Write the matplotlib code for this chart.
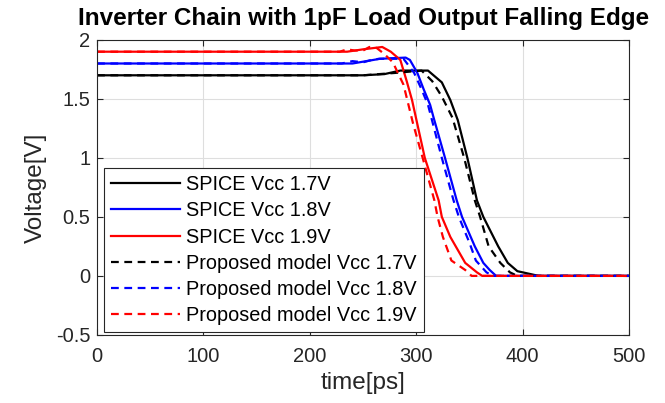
import matplotlib
matplotlib.use("Agg")
import matplotlib.pyplot as plt

plt.rcParams['font.family'] = ['Liberation Sans', 'DejaVu Sans']
plt.rcParams['axes.unicode_minus'] = False

# %% Data.
t_spice_17 = [0, 250, 270, 285, 311, 324, 332, 339, 348, 357, 363, 377, 386, 395, 405, 415, 500]
v_spice_17 = [1.70, 1.70, 1.71, 1.74, 1.74, 1.64, 1.49, 1.32, 1.00, 0.64, 0.50, 0.25, 0.11, 0.04, 0.02, 0.0, 0.0]

t_model_17 = [0, 250, 280, 305, 315, 324, 334, 345, 355, 360, 368, 379, 388, 395, 500]
v_model_17 = [1.70, 1.70, 1.72, 1.74, 1.65, 1.52, 1.34, 1.00, 0.64, 0.50, 0.25, 0.11, 0.03, 0.0, 0.0]

t_spice_18 = [0, 240, 266, 290, 294, 301, 307, 313, 316, 327, 338, 343, 355, 363, 369, 375, 500]
v_spice_18 = [1.80, 1.80, 1.84, 1.85, 1.83, 1.72, 1.58, 1.45, 1.35, 1.00, 0.64, 0.50, 0.25, 0.11, 0.05, 0.0, 0.0]

t_model_18 = [0, 230, 240, 250, 258, 265, 288, 298, 305, 311, 324, 335, 340, 350, 356, 366, 372, 500]
v_model_18 = [1.80, 1.80, 1.82, 1.81, 1.83, 1.84, 1.84, 1.72, 1.58, 1.45, 1.00, 0.64, 0.50, 0.28, 0.13, 0.03, 0.0, 0.0]

t_spice_19 = [0, 235, 250, 268, 276, 285, 291, 296, 308, 321, 324, 332, 346, 357, 362, 500]
v_spice_19 = [1.90, 1.90, 1.92, 1.94, 1.90, 1.83, 1.65, 1.49, 1.00, 0.64, 0.50, 0.33, 0.11, 0.03, 0.0, 0.0]

t_model_19 = [0, 228, 235, 242, 250, 256, 260, 263, 270, 278, 288, 297, 306, 317, 320, 325, 333, 346, 352, 500]
v_model_19 = [1.90, 1.90, 1.92, 1.91, 1.91, 1.94, 1.94, 1.93, 1.88, 1.81, 1.62, 1.29, 1.00, 0.64, 0.50, 0.33, 0.13, 0.05, 0.0, 0.0]

x_ticks = [0, 100, 200, 300, 400, 500]
y_ticks = [-0.5, 0, 0.5, 1, 1.5, 2]
y_tick_labels = ['-0.5', '0', '0.5', '1', '1.5', '2']

# %% Plot.
fig = plt.figure(figsize=(6.65, 4.03), dpi=100)
ax = fig.add_axes([0.146, 0.169, 0.8, 0.732])

lw = 1.6
ax.plot(t_spice_17, v_spice_17, color='black', lw=lw, label='SPICE Vcc 1.7V')
ax.plot(t_spice_18, v_spice_18, color='blue', lw=lw, label='SPICE Vcc 1.8V')
ax.plot(t_spice_19, v_spice_19, color='red', lw=lw, label='SPICE Vcc 1.9V')
ax.plot(t_model_17, v_model_17, color='black', lw=lw, ls=(0, (3.5, 2.5)), label='Proposed model Vcc 1.7V')
ax.plot(t_model_18, v_model_18, color='blue', lw=lw, ls=(0, (3.5, 2.5)), label='Proposed model Vcc 1.8V')
ax.plot(t_model_19, v_model_19, color='red', lw=lw, ls=(0, (3.5, 2.5)), label='Proposed model Vcc 1.9V')

ax.set_xlim(0, 500)
ax.set_ylim(-0.5, 2)
ax.set_xticks(x_ticks)
ax.set_yticks(y_ticks)
ax.set_yticklabels(y_tick_labels)
ax.grid(True, color='#dedede', lw=0.8)
ax.set_axisbelow(True)
ax.tick_params(direction='in', length=4, width=0.8, colors='#262626', labelsize=14.5,
               top=True, right=True, pad=5)
ax.tick_params(axis='x', pad=9)
for s in ax.spines.values():
    s.set_color('#262626')
    s.set_linewidth(0.8)

ax.set_xlabel('time[ps]', fontsize=17.5, color='#262626', labelpad=4)
ax.set_ylabel('Voltage[V]', fontsize=17.5, color='#262626', labelpad=6)
ax.set_title('Inverter Chain with 1pF Load Output Falling Edge', fontsize=17.5,
             fontweight='bold', pad=11)

leg = ax.legend(loc='lower left', bbox_to_anchor=(0.013, 0.01), borderaxespad=0,
                fontsize=14.3, handlelength=3.5, handletextpad=0.3, labelspacing=0.36,
                borderpad=0.35, fancybox=False, framealpha=1, edgecolor='#262626')
leg.get_frame().set_linewidth(0.8)

plt.savefig('out.png', dpi=100)
